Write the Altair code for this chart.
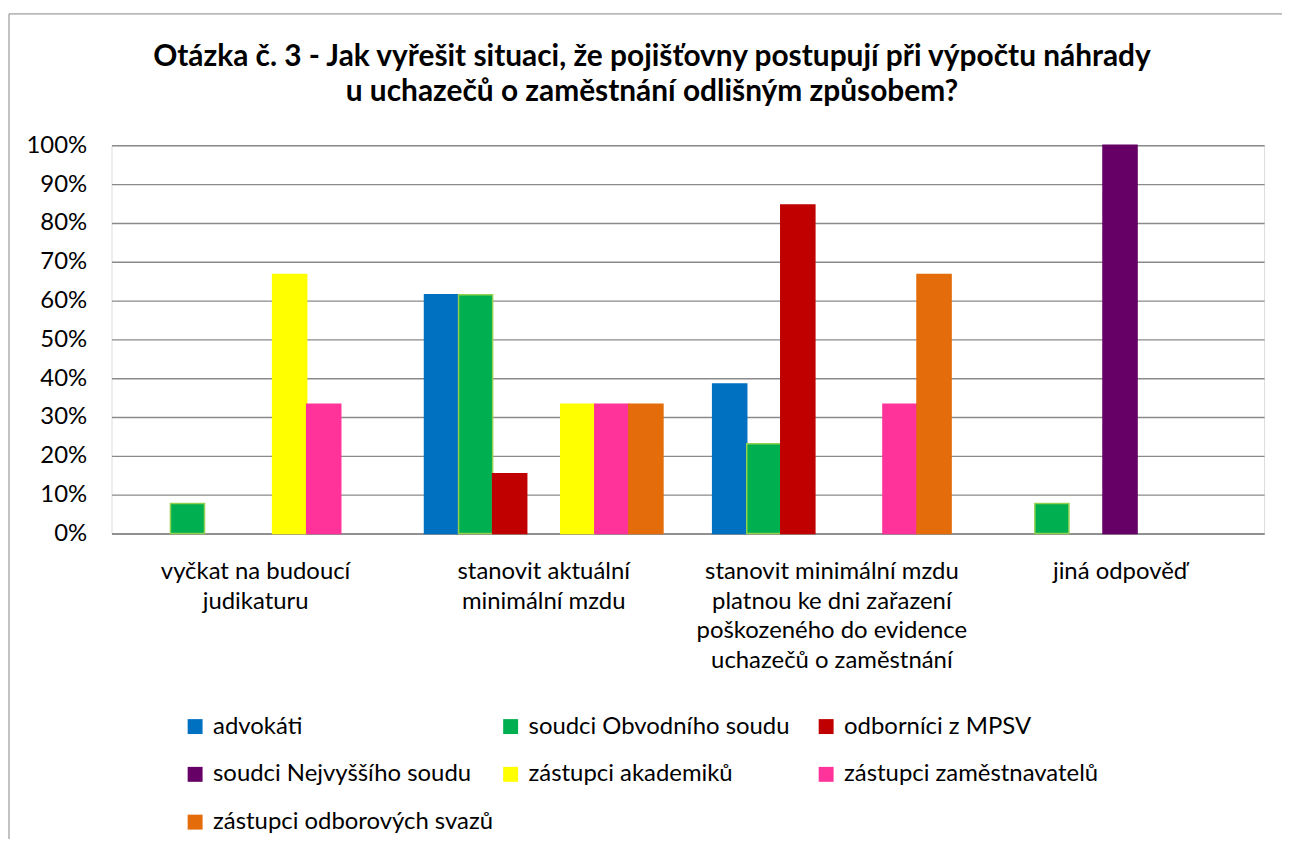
import altair as alt
import pandas as pd

categories = [
    "vyčkat na budoucí\njudikaturu",
    "stanovit aktuální\nminimální mzdu",
    "stanovit minimální mzdu\nplatnou ke dni zařazení\npoškozeného do evidence\nuchazečů o zaměstnání",
    "jiná odpověď",
]
series = [
    "advokáti",
    "soudci Obvodního soudu",
    "odborníci z MPSV",
    "soudci Nejvyššího soudu",
    "zástupci akademiků",
    "zástupci zaměstnavatelů",
    "zástupci odborových svazů",
]
# percentages per category (in the order of `categories`)
advokati = [0, 61.5, 38.5, 0]
soudci_obvodniho = [7.7, 61.5, 23.1, 7.7]
odbornici_mpsv = [0, 15.4, 84.6, 0]
soudci_nejvyssiho = [0, 0, 0, 100]
zastupci_akademiku = [66.7, 33.3, 0, 0]
zastupci_zamestnavatelu = [33.3, 33.3, 33.3, 0]
zastupci_odboru = [0, 33.3, 66.7, 0]

fill_colors = ["#0070C0", "#00B050", "#C00000", "#660066", "#FFFF00", "#FF3399", "#E46C0A"]
stroke_colors = ["#0070C0", "#92D050", "#C00000", "#660066", "#FFFF00", "#FF3399", "#E46C0A"]
y_ticks = [0, 0.1, 0.2, 0.3, 0.4, 0.5, 0.6, 0.7, 0.8, 0.9, 1.0]

title_lines = [
    "Otázka č. 3 - Jak vyřešit situaci, že pojišťovny postupují při výpočtu náhrady",
    "u uchazečů o zaměstnání odlišným způsobem?",
]

values_by_series = [
    advokati, soudci_obvodniho, odbornici_mpsv, soudci_nejvyssiho,
    zastupci_akademiku, zastupci_zamestnavatelu, zastupci_odboru,
]
rows = []
for i, (s, vals) in enumerate(zip(series, values_by_series)):
    for c, v in zip(categories, vals):
        rows.append({"category": c, "series": s, "order": i, "value": v / 100.0})
df = pd.DataFrame(rows)

FONT = "Lato"
GRID = "#8a8a8a"

bars = alt.Chart(df).transform_filter("datum.value > 0").mark_bar(strokeWidth=1.5).encode(
    x=alt.X(
        "category:N",
        sort=categories,
        scale=alt.Scale(domain=categories, paddingInner=0, paddingOuter=0),
        axis=alt.Axis(
            title=None,
            labelExpr="split(datum.label, '\\n')",
            labelAngle=0,
            labelAlign="center",
            labelBaseline="top",
            labelPadding=26,
            labelLineHeight=30,
            labelFontSize=24,
            labelFont=FONT,
            labelColor="black",
            labelLimit=600,
            ticks=False,
            domain=True,
            domainColor=GRID,
            domainWidth=1.4,
            grid=False,
        ),
    ),
    xOffset=alt.XOffset(
        "series:N",
        sort=series,
        scale=alt.Scale(domain=series, paddingInner=0, paddingOuter=0.73),
    ),
    y=alt.Y(
        "value:Q",
        scale=alt.Scale(domain=[0, 1]),
        axis=alt.Axis(
            title=None,
            format="%",
            values=y_ticks,
            domain=False,
            ticks=False,
            labelPadding=25,
            labelFontSize=24,
            labelFont=FONT,
            labelColor="black",
            grid=True,
            gridColor=GRID,
            gridWidth=1.4,
        ),
    ),
    color=alt.Color(
        "series:N",
        sort=series,
        scale=alt.Scale(domain=series, range=fill_colors),
        legend=alt.Legend(
            title=None,
            orient="none",
            direction="horizontal",
            legendX=72,
            legendY=572,
            columns=3,
            gridAlign="all",
            columnPadding=5,
            rowPadding=24,
            symbolType="square",
            symbolSize=225,
            symbolStrokeWidth=0,
            labelFontSize=24,
            labelFont=FONT,
            labelColor="black",
            labelOffset=6,
            labelLimit=500,
            padding=0,
        ),
    ),
    stroke=alt.Stroke(
        "series:N",
        sort=series,
        scale=alt.Scale(domain=series, range=stroke_colors),
        legend=None,
    ),
)

frame = alt.Chart(pd.DataFrame({"k": [0]})).mark_rect(
    fillOpacity=0, stroke="#868686", strokeWidth=1
).encode(
    x=alt.value(-103), x2=alt.value(1400), y=alt.value(-132), y2=alt.value(1000)
)

chart = alt.layer(frame, bars).properties(
    width=1158,
    height=390,
    autosize=alt.AutoSizeParams(type="none"),
    padding={"left": 104, "top": 136, "right": 18, "bottom": 305},
    title=alt.TitleParams(
        text=title_lines,
        font=FONT,
        fontSize=30,
        fontWeight="bold",
        color="black",
        anchor="middle",
        frame="group",
        dx=-36,
        offset=-94,
        lineHeight=35,
    ),
).configure_view(stroke=None).configure(background="white")

chart.save("out.html", embed_options={"renderer": "svg", "actions": False})
